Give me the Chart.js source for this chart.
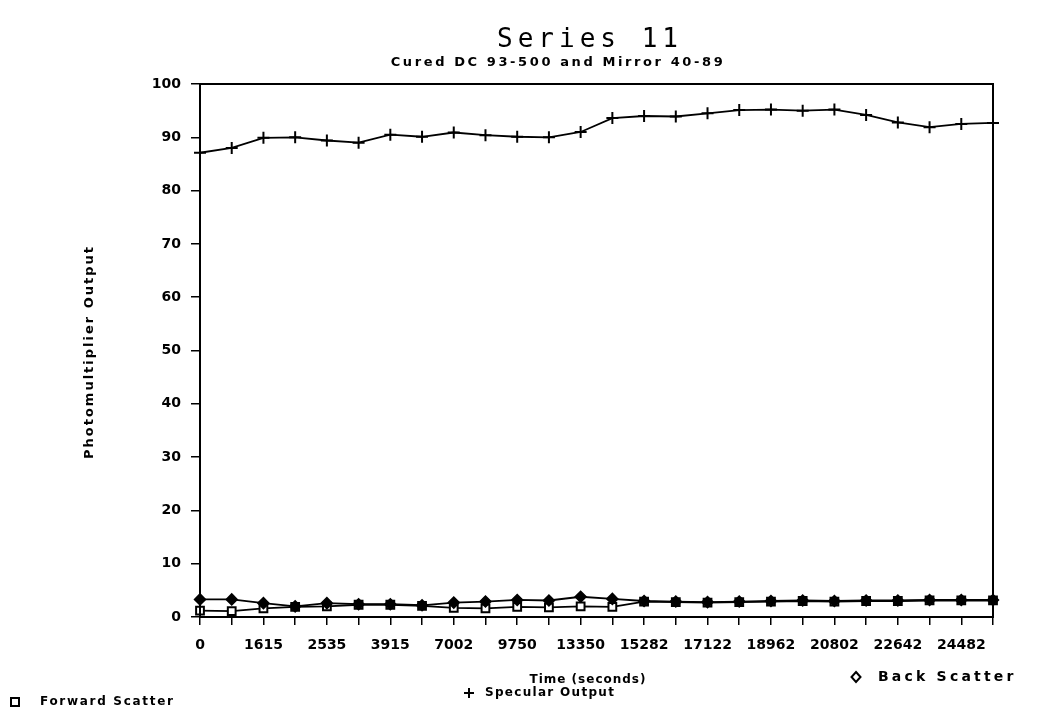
<!DOCTYPE html>
<html>
<head>
<meta charset="utf-8">
<title>Series 11</title>
<script src="https://cdn.jsdelivr.net/npm/chart.js@4.4.1/dist/chart.umd.min.js"></script>
<style>
  html, body { margin: 0; padding: 0; background: #fff; }
  #wrap { width: 1039px; height: 715px; }
</style>
</head>
<body>
<div id="wrap"><canvas id="chart" width="1039" height="715"></canvas></div>
<script>
// ---------- Data ----------
// one sample every half step; only every other step carries a time label
const timeLabels = ['0', '', '1615', '', '2535', '', '3915', '', '7002', '', '9750', '', '13350', '',
                    '15282', '', '17122', '', '18962', '', '20802', '', '22642', '', '24482', ''];
const forwardScatter = [1.2, 1.1, 1.6, 1.9, 2.0, 2.3, 2.3, 2.1, 1.7, 1.6, 1.9, 1.8, 2.0,
                        1.9, 2.9, 2.8, 2.7, 2.8, 2.9, 3.0, 2.9, 3.0, 3.0, 3.1, 3.1, 3.1];
const specularOutput = [87.1, 88.0, 89.9, 90.0, 89.4, 89.0, 90.5, 90.1, 90.9, 90.4, 90.1, 90.0, 91.0,
                        93.6, 94.0, 93.9, 94.5, 95.1, 95.2, 95.0, 95.2, 94.2, 92.8, 91.9, 92.5, 92.7];
const backScatter    = [3.3, 3.3, 2.6, 2.0, 2.6, 2.4, 2.4, 2.2, 2.7, 2.9, 3.2, 3.1, 3.8,
                        3.4, 3.0, 2.9, 2.8, 2.9, 3.0, 3.1, 3.0, 3.1, 3.1, 3.2, 3.2, 3.2];
const yMin = 0, yMax = 100, yStep = 10;

const INK = '#000';
const tickFont = { family: 'DejaVu Sans, sans-serif', size: 14, weight: 'bold' };

// ---------- Text helpers ----------
function drawText(ctx, str, x, y, font, spacing, align){
  ctx.font = font;
  ctx.letterSpacing = spacing + 'px';
  ctx.textAlign = align || 'center';
  ctx.textBaseline = 'middle';
  ctx.fillText(str, x, y);
  ctx.letterSpacing = '0px';
}

// ---------- Frame, titles and the staggered legend ----------
const frameAndCaptions = {
  id: 'frameAndCaptions',
  afterDraw(chart){
    const { ctx, chartArea: a } = chart;
    ctx.save();
    ctx.strokeStyle = INK;
    ctx.fillStyle = INK;
    ctx.lineWidth = 2;
    ctx.strokeRect(a.left, a.top, a.right - a.left, a.bottom - a.top);

    drawText(ctx, 'Series 11', 590, 40, '26px "DejaVu Sans Mono"', 5);
    drawText(ctx, 'Cured DC 93-500 and Mirror 40-89', 558, 63, 'bold 13px "DejaVu Sans"', 2.6);
    drawText(ctx, 'Time (seconds)', 588, 680, 'bold 12px "DejaVu Sans"', 1);

    ctx.save();
    ctx.translate(90, 352);
    ctx.rotate(-Math.PI / 2);
    drawText(ctx, 'Photomultiplier Output', 0, 0, 'bold 13px "DejaVu Sans"', 2);
    ctx.restore();

    // legend markers
    ctx.lineWidth = 2;
    ctx.strokeRect(11, 698, 8, 8);
    ctx.beginPath();
    ctx.moveTo(464, 693); ctx.lineTo(474, 693);
    ctx.moveTo(469, 688); ctx.lineTo(469, 698);
    ctx.stroke();
    ctx.beginPath();
    ctx.moveTo(856, 672); ctx.lineTo(860.5, 677); ctx.lineTo(856, 682); ctx.lineTo(851.5, 677);
    ctx.closePath();
    ctx.stroke();

    drawText(ctx, 'Forward Scatter', 40, 702, 'bold 12px "DejaVu Sans"', 1.7, 'left');
    drawText(ctx, 'Specular Output', 485, 693, 'bold 12px "DejaVu Sans"', 1.3, 'left');
    drawText(ctx, 'Back Scatter', 878, 677, 'bold 14px "DejaVu Sans"', 3.2, 'left');
    ctx.restore();
  }
};

// ---------- Chart ----------
new Chart(document.getElementById('chart'), {
  type: 'line',
  data: {
    labels: timeLabels,
    datasets: [
      {
        label: 'Forward Scatter',
        data: forwardScatter,
        order: 2,
        borderColor: INK,
        borderWidth: 1.8,
        pointStyle: 'rect',
        pointRadius: 5.5,
        pointBorderWidth: 2,
        pointBackgroundColor: '#fff',
        pointBorderColor: INK,
        tension: 0
      },
      {
        label: 'Specular Output',
        data: specularOutput,
        order: 1,
        borderColor: INK,
        borderWidth: 1.8,
        pointStyle: 'cross',
        pointRadius: 6,
        pointBorderWidth: 2,
        pointBorderColor: INK,
        tension: 0
      },
      {
        label: 'Back Scatter',
        data: backScatter,
        order: 0,
        borderColor: INK,
        borderWidth: 1.8,
        pointStyle: 'rectRot',
        pointRadius: 5.5,
        pointBorderWidth: 1.5,
        pointBackgroundColor: INK,
        pointBorderColor: INK,
        tension: 0
      }
    ]
  },
  options: {
    responsive: false,
    devicePixelRatio: 1,
    animation: false,
    events: [],
    layout: { padding: { left: 0, right: 46, top: 84, bottom: 0 } },
    plugins: {
      legend: { display: false },
      tooltip: { enabled: false },
      title: { display: false }
    },
    scales: {
      x: {
        grid: { drawOnChartArea: false, drawTicks: true, tickLength: 8, color: INK, lineWidth: 1.5 },
        border: { color: INK, width: 2 },
        ticks: { autoSkip: false, maxRotation: 0, color: INK, font: tickFont, padding: 12 },
        afterFit(scale){ scale.height = 98; }
      },
      y: {
        min: yMin,
        max: yMax,
        grid: { drawOnChartArea: false, drawTicks: true, tickLength: 9, color: INK, lineWidth: 1.5 },
        border: { color: INK, width: 2 },
        ticks: { stepSize: yStep, color: INK, font: tickFont, padding: 10 },
        afterFit(scale){ scale.width = 200; }
      }
    }
  },
  plugins: [frameAndCaptions]
});
</script>
</body>
</html>
